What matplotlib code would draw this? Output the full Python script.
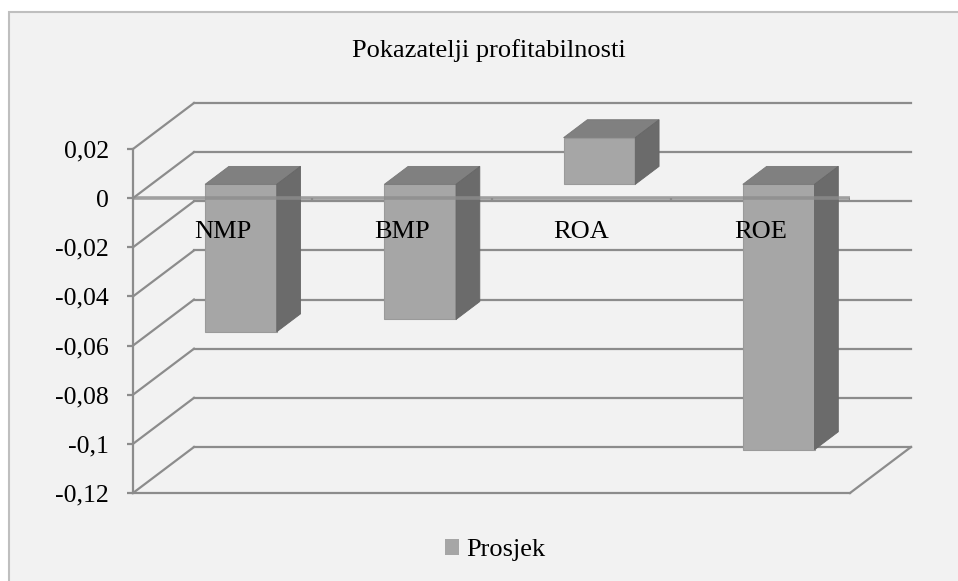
import matplotlib
matplotlib.use("Agg")
import matplotlib.pyplot as plt
from matplotlib.patches import Polygon, Rectangle, Patch

# ---- data ----
categories = ["NMP", "BMP", "ROA", "ROE"]
values = [-0.060, -0.055, 0.019, -0.108]
series_name = "Prosjek"
title = "Pokazatelji profitabilnosti"
yticks = [0.02, 0.0, -0.02, -0.04, -0.06, -0.08, -0.1, -0.12]
ytick_labels = ["0,02", "0", "-0,02", "-0,04", "-0,06", "-0,08", "-0,1", "-0,12"]

# ---- style ----
W, H, DPI = 958, 581, 100
FONT = "Liberation Serif"
BG = "#F2F2F2"
GRID = "#8C8C8C"
FRONT = "#A6A6A6"
TOP = "#808080"
SIDE = "#6B6B6B"

fig = plt.figure(figsize=(W / DPI, H / DPI), dpi=DPI)
fig.patch.set_facecolor("white")
fig.add_artist(Rectangle((9 / W, -0.1), 1.2, 1 - 12 / H + 0.1, transform=fig.transFigure,
                         facecolor=BG, edgecolor="#BFBFBF", linewidth=1.5, zorder=0))

ax = fig.add_axes([133 / W, 88 / H, 717 / W, 344 / H])
ax.set_facecolor("none")
n = len(categories)
ax.set_xlim(0, n)
ax.set_ylim(-0.12, 0.02)

# depth vector (data units) for the pseudo-3D projection
DX = 61 / (717 / n)
DY = 46 / (344 / 0.14)
ymin, ymax = -0.12, 0.02

# back wall gridlines + left side-wall diagonals
for v in yticks:
    ax.plot([DX, n + DX], [v + DY, v + DY], color=GRID, lw=1.6, clip_on=False, zorder=1)
    ax.plot([0, DX], [v, v + DY], color=GRID, lw=1.6, clip_on=False, zorder=1)
# floor right edge
ax.plot([n, n + DX], [ymin, ymin + DY], color=GRID, lw=1.6, clip_on=False, zorder=1)

# bars
d0, d1 = 0.30, 0.69
bw = 0.40
xs = [i + 0.5 for i in range(n)]
ax.bar([x + d0 * DX for x in xs], values, width=bw, bottom=d0 * DY,
       color=FRONT, edgecolor="#9A9A9A", linewidth=0.8, zorder=3, clip_on=False)
for x, v in zip(xs, values):
    top = max(v, 0)
    bot = min(v, 0)
    xl, xr = x - bw / 2, x + bw / 2
    top_poly = [(xl + d0 * DX, top + d0 * DY), (xr + d0 * DX, top + d0 * DY),
                (xr + d1 * DX, top + d1 * DY), (xl + d1 * DX, top + d1 * DY)]
    side_poly = [(xr + d0 * DX, bot + d0 * DY), (xr + d0 * DX, top + d0 * DY),
                 (xr + d1 * DX, top + d1 * DY), (xr + d1 * DX, bot + d1 * DY)]
    ax.add_patch(Polygon(top_poly, closed=True, facecolor=TOP, edgecolor="#777777",
                         linewidth=0.6, zorder=3, clip_on=False))
    ax.add_patch(Polygon(side_poly, closed=True, facecolor=SIDE, edgecolor="#666666",
                         linewidth=0.6, zorder=3, clip_on=False))

# category (zero) axis in front, drawn over bars
ax.axhline(0, color=GRID, lw=2.6, alpha=0.8, zorder=4)
ax.vlines(range(1, n + 1), -0.0016, 0, color=GRID, lw=1.6, zorder=4)

# category labels
for x, c in zip(xs, categories):
    ax.annotate(c, (x, 0), xytext=(0, -28.8), textcoords="offset points",
                ha="center", va="baseline", fontsize=19, family=FONT, zorder=5)

# spines / ticks
for s in ["top", "right"]:
    ax.spines[s].set_visible(False)
for s in ["left", "bottom"]:
    ax.spines[s].set_color(GRID)
    ax.spines[s].set_linewidth(1.6)
ax.set_xticks([])
ax.set_yticks(yticks)
ax.set_yticklabels(ytick_labels, family=FONT, fontsize=18.5)
ax.tick_params(axis="y", direction="out", length=4.3, width=1.6, color=GRID, pad=13)

# title
fig.text(489 / W, 1 - 57 / H, title, ha="center", va="baseline",
         fontsize=19, family=FONT)

# legend
fig.legend(handles=[Patch(facecolor=FRONT, edgecolor="none")], labels=[series_name],
           loc="center", bbox_to_anchor=(495 / W, 1 - 550 / H), frameon=False,
           prop={"family": FONT, "size": 19}, handlelength=0.55, handleheight=0.55,
           handletextpad=0.25, borderpad=0)

fig.savefig("out.png", dpi=DPI, facecolor=fig.get_facecolor())
